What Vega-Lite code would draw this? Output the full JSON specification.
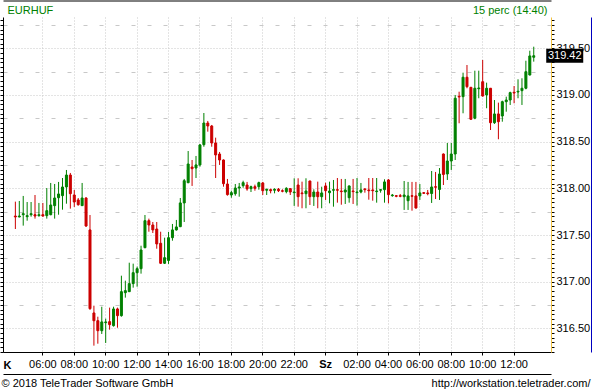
{
"$schema": "https://vega.github.io/schema/vega-lite/v6.json",
"width": 548, "height": 335,
"autosize": "none",
"padding": {"left": 3, "top": 17, "right": 41, "bottom": 38},
"background": "white",
"config": {"view": {"stroke": null}, "font": "Liberation Sans",
 "axis": {"labelFont": "Liberation Sans", "labelFontSize": 11, "labelColor": "black", "titleFont": "Liberation Sans", "titleFontSize": 11, "titleFontWeight": "normal", "titleColor": "black", "domainColor": "black", "tickColor": "black", "gridColor": "#c8c8c8"}},
"data": {"values": [
{"t":"2018-10-16T04:15:00Z","o":317.704,"h":317.858,"l":317.565,"c":317.694},
{"t":"2018-10-16T04:30:00Z","o":317.694,"h":317.865,"l":317.690,"c":317.704},
{"t":"2018-10-16T04:45:00Z","o":317.718,"h":317.919,"l":317.601,"c":317.729},
{"t":"2018-10-16T05:00:00Z","o":317.697,"h":317.854,"l":317.654,"c":317.708},
{"t":"2018-10-16T05:15:00Z","o":317.718,"h":317.854,"l":317.697,"c":317.729},
{"t":"2018-10-16T05:30:00Z","o":317.718,"h":317.929,"l":317.676,"c":317.704},
{"t":"2018-10-16T05:45:00Z","o":317.708,"h":317.844,"l":317.697,"c":317.718},
{"t":"2018-10-16T06:00:00Z","o":317.718,"h":317.844,"l":317.697,"c":317.704},
{"t":"2018-10-16T06:15:00Z","o":317.708,"h":318.004,"l":317.676,"c":317.761},
{"t":"2018-10-16T06:30:00Z","o":317.718,"h":318.058,"l":317.712,"c":317.822},
{"t":"2018-10-16T06:45:00Z","o":317.815,"h":318.047,"l":317.676,"c":317.897},
{"t":"2018-10-16T07:00:00Z","o":317.900,"h":318.069,"l":317.718,"c":317.940},
{"t":"2018-10-16T07:15:00Z","o":317.922,"h":318.111,"l":317.772,"c":318.015},
{"t":"2018-10-16T07:30:00Z","o":318.015,"h":318.197,"l":317.836,"c":318.143},
{"t":"2018-10-16T07:45:00Z","o":318.143,"h":318.165,"l":317.783,"c":317.943},
{"t":"2018-10-16T08:00:00Z","o":317.929,"h":317.983,"l":317.801,"c":317.854},
{"t":"2018-10-16T08:15:00Z","o":317.876,"h":317.897,"l":317.815,"c":317.825},
{"t":"2018-10-16T08:30:00Z","o":317.815,"h":318.058,"l":317.812,"c":317.897},
{"t":"2018-10-16T08:45:00Z","o":317.897,"h":317.905,"l":317.587,"c":317.597},
{"t":"2018-10-16T09:00:00Z","o":317.555,"h":317.715,"l":316.700,"c":316.712},
{"t":"2018-10-16T09:15:00Z","o":316.666,"h":316.744,"l":316.316,"c":316.583},
{"t":"2018-10-16T09:30:00Z","o":316.583,"h":316.626,"l":316.337,"c":316.476},
{"t":"2018-10-16T09:45:00Z","o":316.476,"h":316.733,"l":316.441,"c":316.570},
{"t":"2018-10-16T10:00:00Z","o":316.562,"h":316.605,"l":316.345,"c":316.570},
{"t":"2018-10-16T10:15:00Z","o":316.573,"h":316.723,"l":316.487,"c":316.541},
{"t":"2018-10-16T10:30:00Z","o":316.530,"h":316.733,"l":316.520,"c":316.709},
{"t":"2018-10-16T10:45:00Z","o":316.709,"h":316.723,"l":316.508,"c":316.637},
{"t":"2018-10-16T11:00:00Z","o":316.637,"h":317.065,"l":316.626,"c":316.894},
{"t":"2018-10-16T11:15:00Z","o":316.883,"h":317.012,"l":316.830,"c":316.905},
{"t":"2018-10-16T11:30:00Z","o":316.894,"h":317.204,"l":316.890,"c":316.980},
{"t":"2018-10-16T11:45:00Z","o":316.980,"h":317.194,"l":316.937,"c":317.097},
{"t":"2018-10-16T12:00:00Z","o":317.097,"h":317.162,"l":316.947,"c":317.140},
{"t":"2018-10-16T12:15:00Z","o":317.140,"h":317.386,"l":317.087,"c":317.340},
{"t":"2018-10-16T12:30:00Z","o":317.365,"h":317.715,"l":317.359,"c":317.654},
{"t":"2018-10-16T12:45:00Z","o":317.654,"h":317.676,"l":317.536,"c":317.608},
{"t":"2018-10-16T13:00:00Z","o":317.608,"h":317.640,"l":317.522,"c":317.555},
{"t":"2018-10-16T13:15:00Z","o":317.565,"h":317.640,"l":317.354,"c":317.405},
{"t":"2018-10-16T13:30:00Z","o":317.412,"h":317.536,"l":317.190,"c":317.198},
{"t":"2018-10-16T13:45:00Z","o":317.198,"h":317.472,"l":317.190,"c":317.258},
{"t":"2018-10-16T14:00:00Z","o":317.228,"h":317.533,"l":317.191,"c":317.472},
{"t":"2018-10-16T14:15:00Z","o":317.472,"h":317.619,"l":317.440,"c":317.555},
{"t":"2018-10-16T14:30:00Z","o":317.555,"h":317.662,"l":317.548,"c":317.587},
{"t":"2018-10-16T14:45:00Z","o":317.590,"h":317.897,"l":317.585,"c":317.844},
{"t":"2018-10-16T15:00:00Z","o":317.844,"h":318.101,"l":317.640,"c":318.082},
{"t":"2018-10-16T15:15:00Z","o":318.061,"h":318.400,"l":318.055,"c":318.261},
{"t":"2018-10-16T15:30:00Z","o":318.229,"h":318.304,"l":318.026,"c":318.211},
{"t":"2018-10-16T15:45:00Z","o":318.218,"h":318.347,"l":318.111,"c":318.251},
{"t":"2018-10-16T16:00:00Z","o":318.251,"h":318.475,"l":318.232,"c":318.465},
{"t":"2018-10-16T16:15:00Z","o":318.468,"h":318.807,"l":318.446,"c":318.700},
{"t":"2018-10-16T16:30:00Z","o":318.700,"h":318.722,"l":318.607,"c":318.668},
{"t":"2018-10-16T16:45:00Z","o":318.668,"h":318.679,"l":318.446,"c":318.486},
{"t":"2018-10-16T17:00:00Z","o":318.486,"h":318.543,"l":318.111,"c":318.358},
{"t":"2018-10-16T17:15:00Z","o":318.368,"h":318.390,"l":318.251,"c":318.304},
{"t":"2018-10-16T17:30:00Z","o":318.304,"h":318.310,"l":318.018,"c":318.050},
{"t":"2018-10-16T17:45:00Z","o":318.047,"h":318.101,"l":317.922,"c":317.933},
{"t":"2018-10-16T18:00:00Z","o":317.929,"h":317.975,"l":317.900,"c":317.954},
{"t":"2018-10-16T18:15:00Z","o":317.943,"h":318.047,"l":317.922,"c":318.004},
{"t":"2018-10-16T18:30:00Z","o":318.004,"h":318.058,"l":317.911,"c":318.015},
{"t":"2018-10-16T18:45:00Z","o":318.029,"h":318.082,"l":318.007,"c":318.061},
{"t":"2018-10-16T19:00:00Z","o":318.036,"h":318.069,"l":317.975,"c":317.994},
{"t":"2018-10-16T19:15:00Z","o":317.997,"h":318.029,"l":317.961,"c":318.018},
{"t":"2018-10-16T19:30:00Z","o":318.018,"h":318.040,"l":317.975,"c":318.001},
{"t":"2018-10-16T19:45:00Z","o":318.018,"h":318.072,"l":317.986,"c":318.061},
{"t":"2018-10-16T20:00:00Z","o":318.058,"h":318.069,"l":317.929,"c":317.975},
{"t":"2018-10-16T20:15:00Z","o":317.980,"h":317.997,"l":317.929,"c":317.990},
{"t":"2018-10-16T20:30:00Z","o":317.986,"h":317.997,"l":317.947,"c":317.975},
{"t":"2018-10-16T20:45:00Z","o":317.980,"h":318.001,"l":317.947,"c":317.990},
{"t":"2018-10-16T21:00:00Z","o":317.990,"h":318.004,"l":317.961,"c":317.975},
{"t":"2018-10-16T21:15:00Z","o":317.975,"h":317.990,"l":317.958,"c":317.969},
{"t":"2018-10-16T21:30:00Z","o":317.965,"h":318.012,"l":317.947,"c":318.001},
{"t":"2018-10-16T21:45:00Z","o":317.997,"h":318.001,"l":317.929,"c":317.961},
{"t":"2018-10-16T22:00:00Z","o":317.954,"h":318.108,"l":317.812,"c":317.961},
{"t":"2018-10-16T22:15:00Z","o":318.036,"h":318.108,"l":317.804,"c":317.911},
{"t":"2018-10-16T22:30:00Z","o":317.951,"h":318.072,"l":317.787,"c":317.943},
{"t":"2018-10-16T22:45:00Z","o":317.943,"h":318.108,"l":317.787,"c":317.972},
{"t":"2018-10-16T23:00:00Z","o":318.079,"h":318.082,"l":317.822,"c":317.911},
{"t":"2018-10-16T23:15:00Z","o":317.911,"h":317.990,"l":317.812,"c":317.961},
{"t":"2018-10-16T23:30:00Z","o":317.961,"h":318.072,"l":317.787,"c":317.911},
{"t":"2018-10-16T23:45:00Z","o":317.911,"h":318.018,"l":317.787,"c":317.951},
{"t":"2018-10-17T00:00:00Z","o":318.026,"h":318.061,"l":317.876,"c":317.975},
{"t":"2018-10-17T00:15:00Z","o":317.954,"h":318.072,"l":317.840,"c":317.972},
{"t":"2018-10-17T00:30:00Z","o":317.980,"h":318.090,"l":317.804,"c":317.986},
{"t":"2018-10-17T00:45:00Z","o":317.986,"h":318.111,"l":317.847,"c":317.980},
{"t":"2018-10-17T01:00:00Z","o":317.972,"h":318.101,"l":317.825,"c":317.965},
{"t":"2018-10-17T01:15:00Z","o":317.961,"h":318.101,"l":317.833,"c":317.983},
{"t":"2018-10-17T01:30:00Z","o":317.900,"h":318.030,"l":317.847,"c":318.026},
{"t":"2018-10-17T01:45:00Z","o":317.972,"h":318.101,"l":317.833,"c":317.965},
{"t":"2018-10-17T02:00:00Z","o":317.954,"h":318.111,"l":317.815,"c":317.961},
{"t":"2018-10-17T02:15:00Z","o":317.961,"h":318.058,"l":317.947,"c":317.983},
{"t":"2018-10-17T02:30:00Z","o":317.994,"h":318.000,"l":317.954,"c":317.986},
{"t":"2018-10-17T02:45:00Z","o":317.983,"h":318.111,"l":317.879,"c":317.975},
{"t":"2018-10-17T03:00:00Z","o":317.983,"h":318.111,"l":317.868,"c":317.975},
{"t":"2018-10-17T03:15:00Z","o":317.965,"h":318.111,"l":317.847,"c":317.972},
{"t":"2018-10-17T03:30:00Z","o":317.980,"h":317.994,"l":317.954,"c":317.986},
{"t":"2018-10-17T03:45:00Z","o":317.986,"h":318.097,"l":317.847,"c":318.069},
{"t":"2018-10-17T04:00:00Z","o":318.090,"h":318.101,"l":317.840,"c":317.933},
{"t":"2018-10-17T04:15:00Z","o":317.922,"h":317.940,"l":317.911,"c":317.929},
{"t":"2018-10-17T04:30:00Z","o":317.922,"h":317.929,"l":317.905,"c":317.915},
{"t":"2018-10-17T04:45:00Z","o":317.922,"h":317.940,"l":317.905,"c":317.915},
{"t":"2018-10-17T05:00:00Z","o":317.911,"h":318.079,"l":317.769,"c":317.929},
{"t":"2018-10-17T05:15:00Z","o":317.868,"h":318.069,"l":317.769,"c":317.919},
{"t":"2018-10-17T05:30:00Z","o":317.922,"h":318.069,"l":317.761,"c":317.915},
{"t":"2018-10-17T05:45:00Z","o":317.919,"h":318.069,"l":317.783,"c":317.790},
{"t":"2018-10-17T06:00:00Z","o":317.919,"h":318.047,"l":317.876,"c":317.951},
{"t":"2018-10-17T06:15:00Z","o":317.954,"h":317.961,"l":317.940,"c":317.947},
{"t":"2018-10-17T06:30:00Z","o":317.951,"h":317.983,"l":317.926,"c":317.943},
{"t":"2018-10-17T06:45:00Z","o":317.945,"h":318.186,"l":317.844,"c":318.015},
{"t":"2018-10-17T07:00:00Z","o":318.018,"h":318.176,"l":317.886,"c":318.012},
{"t":"2018-10-17T07:15:00Z","o":317.988,"h":318.218,"l":317.876,"c":318.154},
{"t":"2018-10-17T07:30:00Z","o":318.368,"h":318.374,"l":318.036,"c":318.149},
{"t":"2018-10-17T07:45:00Z","o":318.154,"h":318.486,"l":318.090,"c":318.293},
{"t":"2018-10-17T08:00:00Z","o":318.293,"h":318.486,"l":318.197,"c":318.368},
{"t":"2018-10-17T08:15:00Z","o":318.368,"h":319.000,"l":318.304,"c":318.965},
{"t":"2018-10-17T08:30:00Z","o":318.986,"h":319.035,"l":318.697,"c":318.979},
{"t":"2018-10-17T08:45:00Z","o":318.982,"h":319.239,"l":318.804,"c":319.190},
{"t":"2018-10-17T09:00:00Z","o":319.190,"h":319.321,"l":319.072,"c":319.089},
{"t":"2018-10-17T09:15:00Z","o":319.082,"h":319.086,"l":318.732,"c":318.740},
{"t":"2018-10-17T09:30:00Z","o":318.751,"h":319.260,"l":318.740,"c":319.072},
{"t":"2018-10-17T09:45:00Z","o":319.067,"h":319.260,"l":318.965,"c":319.075},
{"t":"2018-10-17T10:00:00Z","o":319.142,"h":319.375,"l":318.982,"c":318.989},
{"t":"2018-10-17T10:15:00Z","o":319.000,"h":319.132,"l":318.858,"c":319.072},
{"t":"2018-10-17T10:30:00Z","o":319.072,"h":319.075,"l":318.625,"c":318.703},
{"t":"2018-10-17T10:45:00Z","o":318.703,"h":318.946,"l":318.690,"c":318.797},
{"t":"2018-10-17T11:00:00Z","o":318.797,"h":318.918,"l":318.526,"c":318.714},
{"t":"2018-10-17T11:15:00Z","o":318.775,"h":318.939,"l":318.714,"c":318.928},
{"t":"2018-10-17T11:30:00Z","o":318.928,"h":318.982,"l":318.821,"c":318.946},
{"t":"2018-10-17T11:45:00Z","o":318.946,"h":319.035,"l":318.893,"c":319.025},
{"t":"2018-10-17T12:00:00Z","o":319.029,"h":319.096,"l":318.911,"c":319.021},
{"t":"2018-10-17T12:15:00Z","o":319.032,"h":319.168,"l":318.965,"c":319.040},
{"t":"2018-10-17T12:30:00Z","o":319.046,"h":319.179,"l":318.893,"c":319.072},
{"t":"2018-10-17T12:45:00Z","o":319.072,"h":319.367,"l":319.061,"c":319.249},
{"t":"2018-10-17T13:00:00Z","o":319.214,"h":319.474,"l":319.209,"c":319.418},
{"t":"2018-10-17T13:15:00Z","o":319.404,"h":319.517,"l":319.357,"c":319.420}
]},
"resolve": {"axis": {"x": "independent", "y": "independent"}},
"layer": [
{
 "mark": {"type": "rule", "strokeWidth": 1, "xOffset": 0.5},
 "encoding": {
  "x": {"field": "t", "type": "temporal",
   "scale": {"type": "utc", "domain": [1539661725000, 1539785025000]},
   "axis": {"orient": "bottom", "format": "%H:%M",
    "values": [1539669600000, 1539676800000, 1539684000000, 1539691200000, 1539698400000, 1539705600000, 1539712800000, 1539720000000, 1539727200000, 1539734400000, 1539741600000, 1539748800000, 1539756000000, 1539763200000, 1539770400000, 1539777600000],
    "labelExpr": "time(datum.value) == 1539734400000 ? 'Sz' : datum.label",
    "labelFontWeight": {"condition": {"test": "time(datum.value) == 1539734400000", "value": "bold"}, "value": "normal"},
    "labelPadding": 3, "tickSize": 3,
    "grid": true, "gridDash": [1, 2], "gridColor": "#c8c8c8",
    "title": "K", "titleFontWeight": "bold", "titleAlign": "left", "titleAnchor": "start", "titleX": 0, "titleY": 16, "titleBaseline": "alphabetic"}},
  "y": {"field": "l", "type": "quantitative",
   "scale": {"domain": [316.248, 319.835], "nice": false, "zero": false},
   "axis": {"orient": "left", "tickCount": 72, "labels": false, "tickSize": 3, "title": null,
    "grid": true, "gridColor": "#c8c8c8",
    "gridOpacity": {"condition": {"test": "abs(datum.value*4 - round(datum.value*4)) < 0.01", "value": 1}, "value": 0},
    "gridDash": {"condition": {"test": "abs(datum.value*2 - round(datum.value*2)) < 0.01", "value": [1, 2]}, "value": [4, 12]}}},
  "y2": {"field": "h"},
  "color": {"condition": {"test": "datum.c >= datum.o", "value": "#008000"}, "value": "#cc0000"}
 }
},
{
 "mark": {"type": "bar", "size": 2, "strokeWidth": 1, "xOffset": 0.5},
 "encoding": {
  "x": {"field": "t", "type": "temporal",
   "axis": {"orient": "top", "domain": false, "ticks": false, "labels": false, "grid": false,
    "title": "EURHUF", "titleColor": "#008000", "titleAlign": "left", "titleAnchor": "start", "titleX": 4, "titleY": -4, "titleBaseline": "alphabetic"}},
  "y": {"field": "o", "type": "quantitative",
   "axis": {"orient": "right", "tickCount": 72, "tickSize": 3, "labelPadding": 2, "title": null, "grid": false,
    "labelExpr": "abs(datum.value*2 - round(datum.value*2)) < 0.01 ? format(datum.value, '.2f') : ''",
    "domainColor": "#f0c040"}},
  "y2": {"field": "c"},
  "fill": {"condition": {"test": "datum.c >= datum.o", "value": "#008000"}, "value": "#cc0000"},
  "stroke": {"condition": {"test": "datum.c >= datum.o", "value": "#008000"}, "value": "#cc0000"}
 }
},
{
 "transform": [{"window": [{"op": "row_number", "as": "rn"}], "sort": [{"field": "t", "order": "descending"}]}, {"filter": "datum.rn == 1"}],
 "mark": {"type": "rect", "color": "black", "xOffset": 13, "x2Offset": 50, "yOffset": -7, "y2Offset": 7},
 "encoding": {
  "x": {"field": "t", "type": "temporal",
   "axis": {"orient": "top", "offset": 16.5, "domain": true, "domainColor": "black", "ticks": false, "labels": false, "grid": false,
    "title": "15 perc (14:40)", "titleColor": "#008000", "titleAlign": "right", "titleX": 544, "titleY": 12.5, "titleBaseline": "alphabetic"}},
  "x2": {"field": "t"},
  "y": {"field": "c", "type": "quantitative",
   "axis": {"orient": "right", "offset": 40, "domainColor": "#0000c0", "ticks": false, "labels": false, "grid": false, "title": null}},
  "y2": {"field": "c"}
 }
},
{
 "transform": [{"window": [{"op": "row_number", "as": "rn"}], "sort": [{"field": "t", "order": "descending"}]}, {"filter": "datum.rn == 1"}],
 "mark": {"type": "text", "color": "white", "xOffset": 31.5, "align": "center", "baseline": "middle", "fontSize": 11, "font": "Liberation Sans"},
 "encoding": {
  "x": {"field": "t", "type": "temporal",
   "axis": {"orient": "bottom", "offset": 22, "domain": true, "domainColor": "black", "ticks": false, "labels": false, "grid": false,
    "title": "http://workstation.teletrader.com/", "titleAlign": "right", "titleX": 587, "titleY": 12, "titleBaseline": "alphabetic"}},
  "y": {"field": "c", "type": "quantitative",
   "axis": {"orient": "left", "domain": false, "ticks": false, "labels": false, "grid": false,
    "title": "© 2018 TeleTrader Software GmbH", "titleAngle": 0, "titleAlign": "left", "titleX": -2, "titleY": 369, "titleBaseline": "alphabetic"}},
  "text": {"field": "c", "type": "quantitative", "format": ".2f"}
 }
}
]
}
